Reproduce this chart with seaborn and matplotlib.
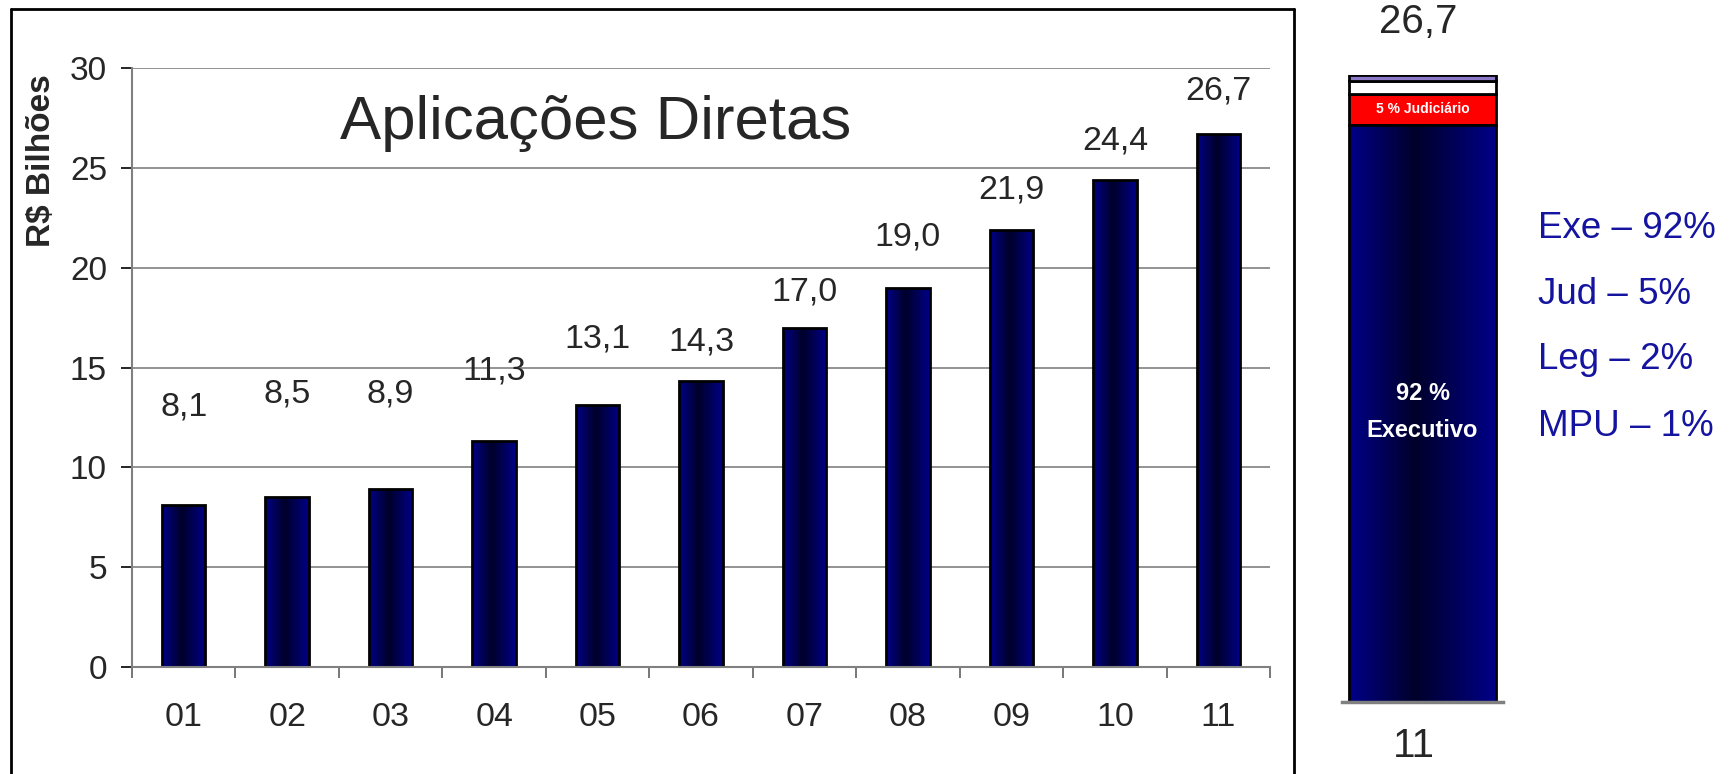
import numpy as np
import matplotlib
matplotlib.use('Agg')
import matplotlib.pyplot as plt
from matplotlib.colors import LinearSegmentedColormap
from matplotlib.lines import Line2D
import seaborn as sns

# data
years = ['01', '02', '03', '04', '05', '06', '07', '08', '09', '10', '11']
values = [8.1, 8.5, 8.9, 11.3, 13.1, 14.3, 17.0, 19.0, 21.9, 24.4, 26.7]

powers = ['Exe', 'Jud', 'Leg', 'MPU']
shares = [92, 5, 2, 1]
total_last = 26.7

# hand placed label heights (data units) as in the original
label_y = [13.0, 13.65, 13.65, 14.8, 16.45, 16.3, 18.8, 21.55, 23.9, 26.35, 28.85]

sns.set_style('white')
plt.rcParams['font.family'] = ['Liberation Sans', 'DejaVu Sans']

W, H = 1729, 774
fig = plt.figure(figsize=(W / 100, H / 100), dpi=100)

grad_cmap = LinearSegmentedColormap.from_list(
    'navy', [(0, '#000088'), (0.45, '#00002a'), (1, '#000088')])
grad = np.linspace(0, 1, 256).reshape(1, -1)


def shade(ax, patch):
    x0, y0 = patch.get_x(), patch.get_y()
    w, h = patch.get_width(), patch.get_height()
    im = ax.imshow(grad, extent=[x0, x0 + w, y0, y0 + h], aspect='auto',
                   cmap=grad_cmap, zorder=1.5, interpolation='bilinear')
    im.set_clip_path(patch)
    patch.set_facecolor('none')
    patch.set_zorder(2)


# main chart
ax = fig.add_axes([132 / W, (H - 667) / H, 1138 / W, 599 / H])
sns.barplot(x=years, y=values, color='#000080', width=0.42, saturation=1,
            edgecolor='black', linewidth=2, ax=ax)
for p in list(ax.patches):
    shade(ax, p)

ax.set_xlim(-0.5, 10.5)
ax.set_ylim(0, 30)
ax.set_yticks(range(0, 31, 5))
ax.set_axisbelow(True)
ax.yaxis.grid(True, color='#808080', lw=1.2)
for s in ['top', 'right']:
    ax.spines[s].set_visible(False)
for s in ['left', 'bottom']:
    ax.spines[s].set_color('#808080')
    ax.spines[s].set_linewidth(1.5)
ax.tick_params(axis='y', length=8, width=1.2, color='black', pad=10, labelsize=24, left=True)
ax.tick_params(axis='x', which='major', length=0, pad=25, labelsize=24.5)
ax.set_xticks(np.arange(-0.5, 11, 1), minor=True)
ax.tick_params(axis='x', which='minor', length=8, width=1.2, color='#606060', bottom=True)

for i, v in enumerate(values):
    ax.text(i, label_y[i], f'{v:.1f}'.replace('.', ','), ha='center', va='center', fontsize=24.5)

ax.text(0.407, 0.908, 'Aplicações Diretas', transform=ax.transAxes,
        ha='center', va='center', fontsize=44.5)
ax.set_ylabel('R$ Bilhões', fontsize=24, fontweight='bold')
ax.yaxis.set_label_coords(-0.066, 0.846)

# stacked bar for the last year
ax2 = fig.add_axes([1342 / W, (H - 702) / H, 161 / W, 627 / H])
seg_colors = ['#000080', '#ff0000', 'white', '#8c78c8']
bottom = 0
segs = []
for name, s, c in zip(powers, shares, seg_colors):
    h = total_last * s / 100
    b = ax2.bar(0, h, bottom=bottom, width=0.907, color=c, edgecolor='black', linewidth=2)
    segs.append((bottom, h, b.patches[0]))
    bottom += h
shade(ax2, segs[0][2])
ax2.set_xlim(-0.5, 0.5)
ax2.set_ylim(0, total_last)
ax2.set_xticks([])
ax2.set_yticks([])
for s in ['top', 'right', 'left']:
    ax2.spines[s].set_visible(False)
ax2.spines['bottom'].set_color('#808080')
ax2.spines['bottom'].set_linewidth(2.5)

narrow = ['Liberation Sans Narrow', 'Liberation Sans', 'DejaVu Sans']
ax2.text(0, 0.4625 * total_last, '92 %\nExecutivo', ha='center', va='center',
         color='white', fontsize=17, fontweight='bold', family=narrow, linespacing=1.8)
b1, h1, _ = segs[1]
ax2.text(0, b1 + h1 / 2, '5 % Judiciário', ha='center', va='center',
         color='white', fontsize=10, fontweight='bold', family=narrow)

fig.text(1418 / W, 1 - 22 / H, f'{total_last:.1f}'.replace('.', ','),
         ha='center', va='center', fontsize=29)
fig.text(1414 / W, 1 - 746 / H, years[-1], ha='center', va='center', fontsize=29)

legend_y = [228, 294, 360, 426]
for name, s, yy in zip(powers, shares, legend_y):
    fig.text(1538 / W, 1 - yy / H, f'{name} – {s}%', ha='left', va='center',
             fontsize=26.5, color='#1414a0')

# frame around the main chart
lw = 2
fig.add_artist(Line2D([11 / W, 11 / W], [0, 1 - 9 / H], transform=fig.transFigure, color='black', lw=lw))
fig.add_artist(Line2D([11 / W, 1294 / W], [1 - 9 / H, 1 - 9 / H], transform=fig.transFigure, color='black', lw=lw))
fig.add_artist(Line2D([1294 / W, 1294 / W], [0, 1 - 9 / H], transform=fig.transFigure, color='black', lw=lw))

fig.savefig('out.png', dpi=100)
